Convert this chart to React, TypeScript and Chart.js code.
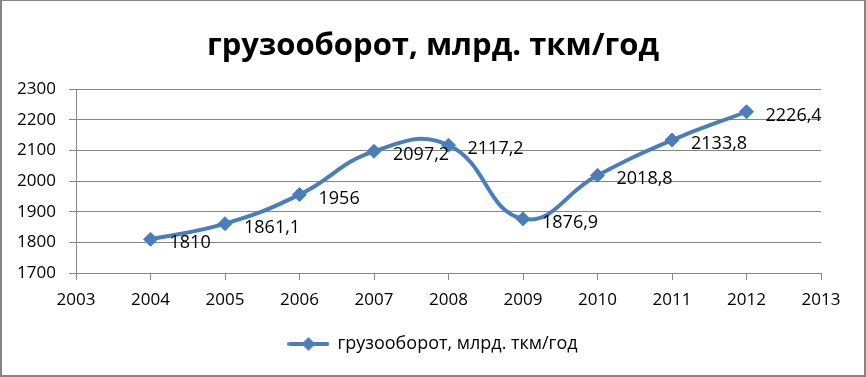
import React, { useEffect, useRef } from "react";
import { Chart, registerables } from "chart.js";

Chart.register(...registerables);

const TITLE = "грузооборот, млрд. ткм/год";
const SERIES_NAME = "грузооборот, млрд. ткм/год";
const years = [2004, 2005, 2006, 2007, 2008, 2009, 2010, 2011, 2012];
const values = [1810, 1861.1, 1956, 2097.2, 2117.2, 1876.9, 2018.8, 2133.8, 2226.4];
const valueLabels = ["1810", "1861,1", "1956", "2097,2", "2117,2", "1876,9", "2018,8", "2133,8", "2226,4"];
const xMin = 2003;
const xMax = 2013;
const yMin = 1700;
const yMax = 2300;
const yStep = 100;

const BLUE = "#4A7EBB";
const GRID = "#868686";
const FONT = "'Open Sans', 'Noto Sans', sans-serif";

function makeLegendIcon(): HTMLCanvasElement {
  const c = document.createElement("canvas");
  c.width = 42;
  c.height = 16;
  const ctx = c.getContext("2d")!;
  ctx.strokeStyle = BLUE;
  ctx.lineWidth = 4;
  ctx.lineCap = "round";
  ctx.beginPath();
  ctx.moveTo(2, 8);
  ctx.lineTo(40, 8);
  ctx.stroke();
  ctx.fillStyle = BLUE;
  ctx.beginPath();
  ctx.moveTo(21, 1);
  ctx.lineTo(28, 8);
  ctx.lineTo(21, 15);
  ctx.lineTo(14, 8);
  ctx.closePath();
  ctx.fill();
  return c;
}

const dataLabelPlugin = {
  id: "dataLabels",
  afterDatasetsDraw(chart: any) {
    const ctx = chart.ctx;
    const meta = chart.getDatasetMeta(0);
    ctx.save();
    ctx.font = `18px ${FONT}`;
    ctx.fillStyle = "#000";
    ctx.textAlign = "left";
    ctx.textBaseline = "middle";
    meta.data.forEach((el: any, i: number) => {
      ctx.fillText(valueLabels[i], el.x + 19, el.y + 4);
    });
    ctx.restore();
  },
};

export default function App() {
  const ref = useRef<HTMLCanvasElement>(null);
  useEffect(() => {
    if (!ref.current) return;
    const icon = makeLegendIcon();
    const chart = new Chart(ref.current, {
      type: "line",
      data: {
        datasets: [
          {
            label: SERIES_NAME,
            data: years.map((y, i) => ({ x: y, y: values[i] })),
            borderColor: BLUE,
            backgroundColor: BLUE,
            borderWidth: 4,
            tension: 0.45,
            pointStyle: "rectRot",
            pointRadius: 7,
            pointBorderWidth: 1,
            pointBackgroundColor: BLUE,
            pointBorderColor: BLUE,
            fill: false,
            yAxisID: "y",
          },
        ],
      },
      options: {
        responsive: false,
        animation: false,
        layout: { padding: { left: 0, right: 0, top: 0, bottom: 14 } },
        font: { family: FONT },
        plugins: {
          title: {
            display: true,
            text: TITLE,
            color: "#000",
            font: { family: FONT, size: 31, weight: "bold", lineHeight: 1.2 },
            padding: { top: 28, bottom: 24 },
          },
          legend: {
            display: true,
            position: "bottom",
            labels: {
              color: "#000",
              font: { family: FONT, size: 18 },
              usePointStyle: true,
              pointStyleWidth: 40,
              padding: 10,
              generateLabels: () => [
                {
                  text: SERIES_NAME,
                  pointStyle: icon,
                  fillStyle: BLUE,
                  strokeStyle: BLUE,
                  lineWidth: 0,
                  datasetIndex: 0,
                  hidden: false,
                } as any,
              ],
            },
          },
          tooltip: { enabled: false },
        },
        scales: {
          x: {
            type: "linear",
            min: xMin,
            max: xMax,
            afterFit: (s: any) => {
              s.height = 52;
            },
            ticks: {
              stepSize: 1,
              color: "#000",
              font: { family: FONT, size: 17 },
              padding: 10,
              maxRotation: 0,
              callback: (v: any) => String(v),
            },
            grid: {
              drawOnChartArea: false,
              drawTicks: true,
              tickLength: 7,
              color: GRID,
            },
            border: { display: true, color: GRID, width: 1 },
          },
          y: {
            type: "linear",
            position: "left",
            min: yMin,
            max: yMax,
            afterFit: (s: any) => {
              s.width = 76;
            },
            ticks: {
              stepSize: yStep,
              color: "#000",
              font: { family: FONT, size: 17 },
              padding: 13,
              callback: (v: any) => String(v),
            },
            grid: {
              drawOnChartArea: true,
              drawTicks: true,
              tickLength: 7,
              color: GRID,
            },
            border: { display: true, color: GRID, width: 1 },
          },
          yRightSpace: {
            type: "linear",
            position: "right",
            min: yMin,
            max: yMax,
            afterFit: (s: any) => {
              s.width = 45;
            },
            ticks: { display: false },
            grid: { display: false, drawTicks: false },
            border: { display: false },
          },
        },
      },
      plugins: [dataLabelPlugin],
    });
    return () => chart.destroy();
  }, []);

  return (
    <div style={{ position: "absolute", left: 0, top: 0, width: 866, height: 377, background: "#fff" }}>
      <canvas ref={ref} width={866} height={377} style={{ display: "block" }} />
      <div
        style={{
          position: "absolute",
          left: 0,
          top: 0,
          width: 866,
          height: 377,
          boxSizing: "border-box",
          borderTop: `1px solid ${GRID}`,
          borderLeft: `2px solid ${GRID}`,
          borderRight: `2px solid ${GRID}`,
          borderBottom: `2px solid ${GRID}`,
          pointerEvents: "none",
        }}
      />
    </div>
  );
}
